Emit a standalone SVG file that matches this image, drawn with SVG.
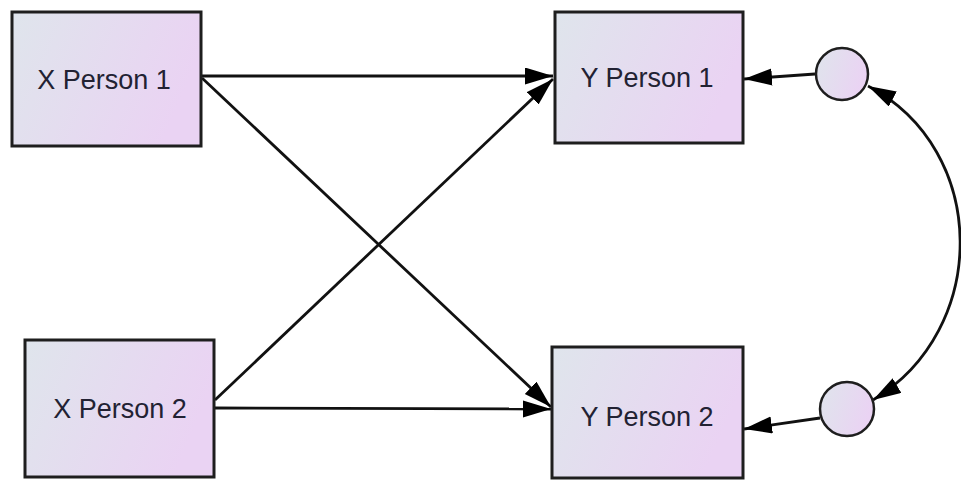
<svg xmlns="http://www.w3.org/2000/svg" width="961" height="482" viewBox="0 0 961 482">
<style>
.box{stroke:#1e1e1e;stroke-width:3;fill:url(#g)}
.lat{stroke:#1e1e1e;stroke-width:2.5;fill:url(#g)}
.lbl{font-family:"Liberation Sans",Arial,sans-serif;font-size:27px;fill:#222233;text-anchor:middle}
.c{stroke:#111;stroke-width:2.8;fill:none;marker-end:url(#ah)}
</style>
<defs>
<linearGradient id="g" x1="0" y1="0" x2="1" y2="0.3">
<stop offset="0" stop-color="#dfe5ec"/>
<stop offset="1" stop-color="#ead3f3"/>
</linearGradient>
<marker id="ah" markerUnits="userSpaceOnUse" markerWidth="30" markerHeight="18" refX="28" refY="8.5" orient="auto-start-reverse">
<path d="M0,0 L28,8.5 L0,17 z" fill="#000"/>
</marker>
</defs>
<rect width="961" height="482" fill="#fff"/>
<g id="connectors">
<line class="c" x1="202" y1="76" x2="553" y2="76"/>
<line class="c" x1="202" y1="78" x2="551" y2="407"/>
<line class="c" x1="215" y1="400" x2="553" y2="79"/>
<line class="c" x1="215" y1="408" x2="551" y2="409"/>
<line class="c" x1="815" y1="74" x2="744" y2="79"/>
<line class="c" x1="820" y1="418" x2="744" y2="429"/>
<path class="c" d="M868,86 C990,150 990,330 873,400" style="marker-start:url(#ah)"/>
</g>
<g id="xp1"><rect class="box" x="12" y="12" width="189" height="134"/><text class="lbl" x="104" y="89">X Person 1</text></g>
<g id="yp1"><rect class="box" x="555" y="12" width="188" height="131"/><text class="lbl" x="647" y="87">Y Person 1</text></g>
<g id="xp2"><rect class="box" x="25" y="340" width="189" height="137"/><text class="lbl" x="120" y="418">X Person 2</text></g>
<g id="yp2"><rect class="box" x="552" y="347" width="191" height="131"/><text class="lbl" x="647" y="426">Y Person 2</text></g>
<g id="e1"><circle class="lat" cx="842" cy="74" r="26"/></g>
<g id="e2"><circle class="lat" cx="847" cy="409" r="27"/></g>
</svg>
